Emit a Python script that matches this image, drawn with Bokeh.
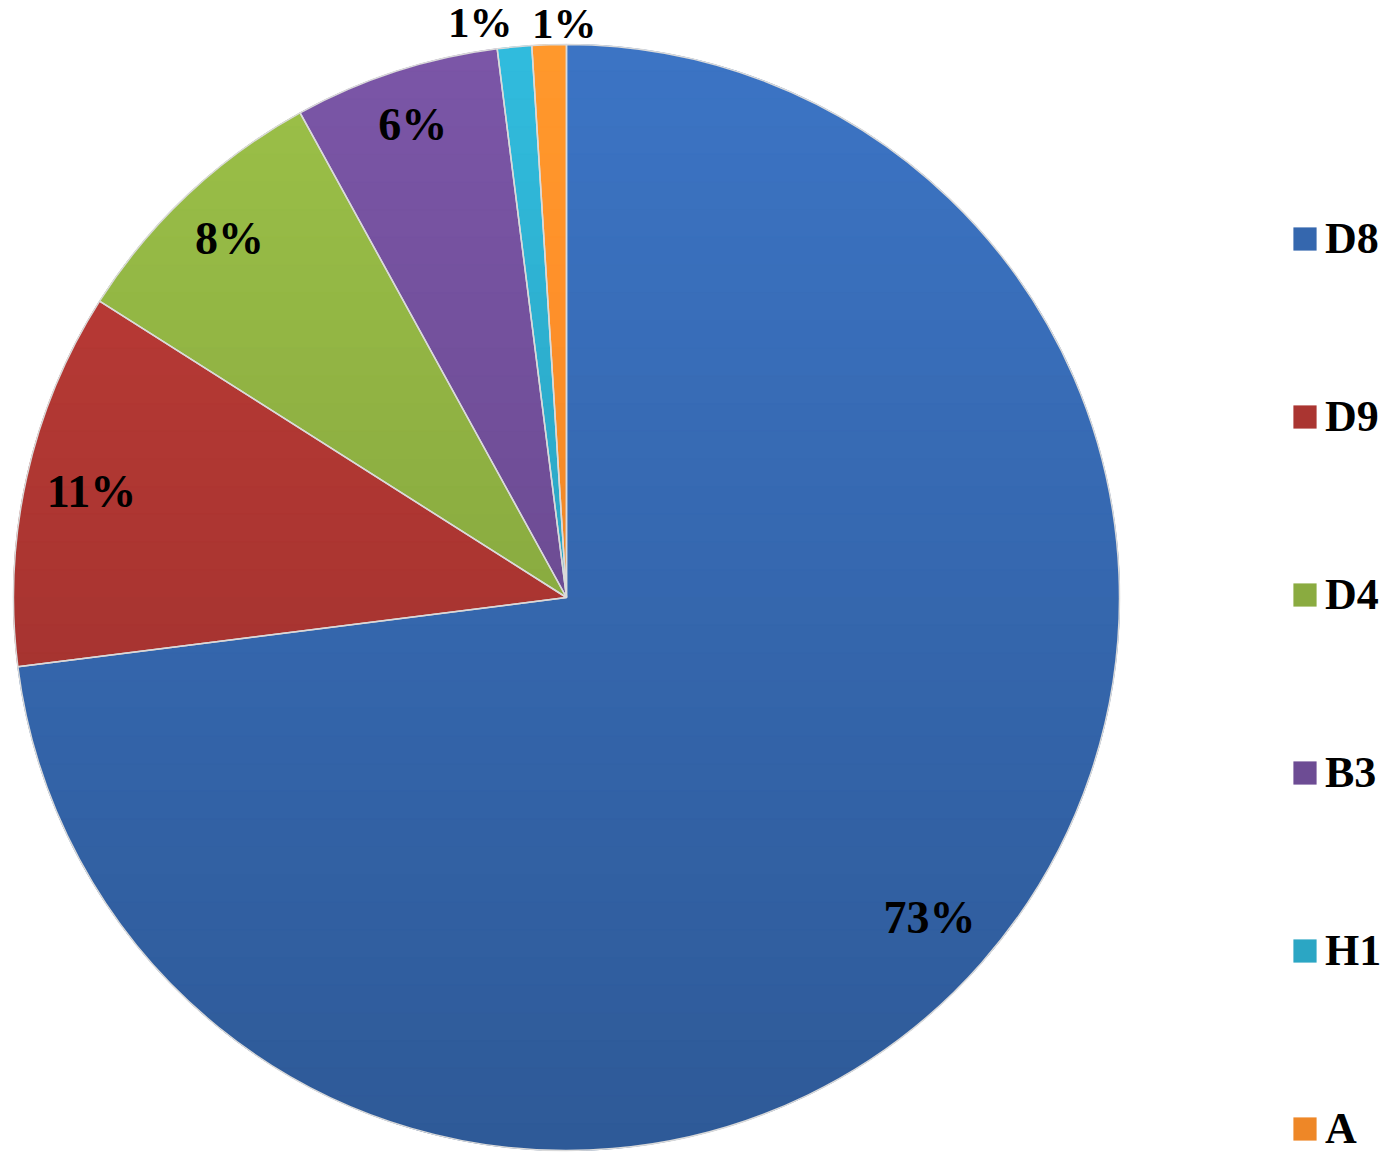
import numpy as np
from bokeh.plotting import figure
from bokeh.models import Range1d, Legend, LegendItem
from bokeh.core.properties import value
from bokeh.embed import file_html
from bokeh.resources import INLINE

categories = ["D8", "D9", "D4", "B3", "H1", "A"]
shares = [73, 11, 8, 6, 1, 1]
labels = ["73%", "11%", "8%", "6%", "1%", "1%"]
colors = ["#3567AE", "#AA3531", "#8AAB40", "#6D4C94", "#2BA6C4", "#EE8727"]

FONT = "Liberation Serif"
cx, cy, R = 566, -597, 553

frac = np.array(shares, dtype=float) / sum(shares)
ends = np.pi / 2 - 2 * np.pi * np.concatenate([[0], np.cumsum(frac)[:-1]])
starts = ends - 2 * np.pi * frac
mids = (starts + ends) / 2

p = figure(width=1384, height=1156, output_backend="svg", toolbar_location=None,
           x_range=Range1d(0, 1384), y_range=Range1d(-1156, 0), min_border=0,
           outline_line_color=None)
p.axis.visible = False
p.grid.visible = False


def hex2rgb(h):
    h = h.lstrip("#")
    return np.array([int(h[i:i + 2], 16) for i in (0, 2, 4)], dtype=float)


def rgb2hex(c):
    c = np.clip(np.round(c), 0, 255).astype(int)
    return "#%02x%02x%02x" % tuple(c)


def clip_half(poly, yb, keep_above):
    out = []
    n = len(poly)
    for i in range(n):
        a = poly[i]
        b = poly[(i + 1) % n]
        ina = a[1] >= yb if keep_above else a[1] <= yb
        inb = b[1] >= yb if keep_above else b[1] <= yb
        if ina:
            out.append(a)
        if ina != inb:
            t = (yb - a[1]) / (b[1] - a[1])
            out.append((a[0] + t * (b[0] - a[0]), yb))
    return out


nb = 40
edges = np.linspace(cy + R + 1, cy - R - 1, nb + 1)

items = []
for i, c in enumerate(categories):
    wr = p.wedge(x=cx, y=cy, radius=R, start_angle=starts[i], end_angle=ends[i],
                 fill_color=colors[i], line_color=None)
    items.append(LegendItem(label=c, renderers=[wr]))
    th = np.linspace(starts[i], ends[i], max(8, int(frac[i] * 720)))
    poly = [(cx, cy)] + [(cx + R * np.cos(t), cy + R * np.sin(t)) for t in th]
    base = hex2rgb(colors[i])
    xs, ys, cols = [], [], []
    for k in range(nb):
        top, bot = edges[k], edges[k + 1]
        q = clip_half(clip_half(poly, bot, True), top, False)
        if len(q) < 3:
            continue
        tt = (cy + R - (top + bot) / 2) / (2 * R)
        f = 1.13 - 0.26 * tt
        xs.append([pt[0] for pt in q])
        ys.append([pt[1] for pt in q])
        cols.append(rgb2hex(base * f))
    p.patches(xs=xs, ys=ys, fill_color=cols, line_color=cols, line_width=1)

# slice outlines
p.wedge(x=cx, y=cy, radius=R, start_angle=starts, end_angle=ends,
        fill_color=None, line_color="#DADADA", line_width=1.5)

# labels: inside labels for the large slices, outside labels for the small ones
lr = np.array([0.875, 0.88, 0.89, 0.9, 1.06, 1.055]) * R
xoff = np.array([0, 0, 0, 0, -31, 16])
yoff = np.array([0, 0, 0, 0, 9, 9])
lx = cx + lr * np.cos(mids)
ly = cy + lr * np.sin(mids)
big = np.array(shares) >= 5
small = ~big
p.text(x=lx[big], y=ly[big], text=[l for l, b in zip(labels, big) if b],
       text_align="center", text_baseline="middle", text_font=value(FONT),
       text_font_style="bold", text_font_size="46px", text_color="black")
p.text(x=lx[small], y=ly[small], text=[l for l, b in zip(labels, small) if b],
       x_offset=xoff[small], y_offset=yoff[small], text_align="center",
       text_baseline="middle", text_font=value(FONT), text_font_style="bold",
       text_font_size="43px", text_color="black")

leg = Legend(items=items, location=(1290, 2), orientation="vertical",
             glyph_width=29, glyph_height=29, label_text_font=FONT,
             label_text_font_style="bold", label_text_font_size="44px",
             label_text_color="black", label_standoff=6, label_height=44,
             spacing=127, padding=0, margin=0, border_line_alpha=0,
             background_fill_alpha=0)
p.add_layout(leg)

open("out.html", "w").write(file_html(p, INLINE))
